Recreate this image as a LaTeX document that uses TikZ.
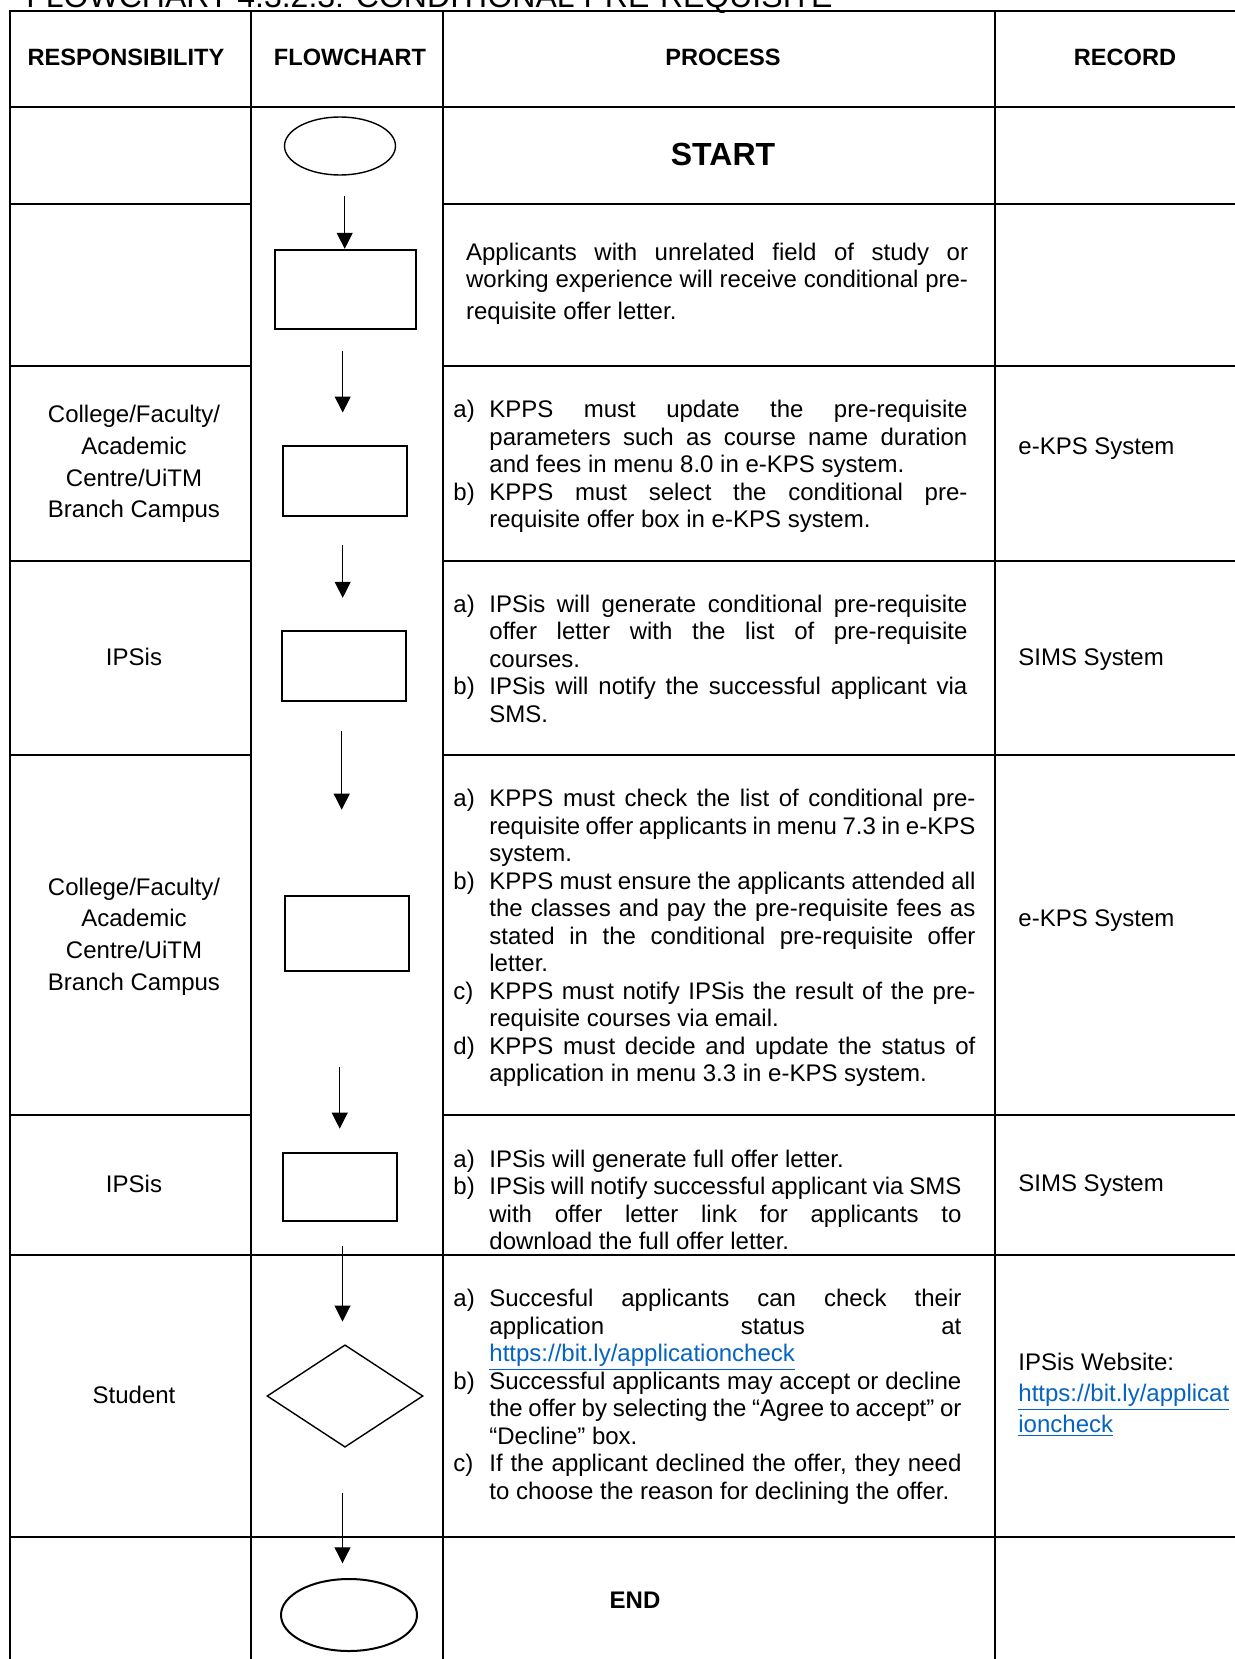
\documentclass[tikz,border=0pt]{standalone}
\usepackage{fontspec}
\setmainfont{Liberation Sans}
\usepackage{xcolor}
\usetikzlibrary{arrows.meta,shapes.geometric}

\definecolor{linkblue}{HTML}{0563C1}
\newcommand{\weblink}[1]{{\color{linkblue}\underline{#1}}}
\newcommand{\stepitem}[2]{\noindent\hangindent=18pt\hangafter=1\makebox[18pt][l]{#1}#2\par}
\hyphenpenalty=10000
\exhyphenpenalty=10000

\begin{document}
\begin{tikzpicture}[
  x=0.5pt, y=-0.5pt,
  grid/.style={line width=1pt},
  head/.style={font=\fontsize{11.8}{14}\selectfont\bfseries},
  who/.style={align=center, font=\fontsize{12}{15.9}\selectfont},
  task/.style={anchor=west, inner sep=0pt, align=justify, font=\fontsize{12}{13.75}\selectfont},
  rec/.style={anchor=west, inner sep=0pt, align=left, font=\fontsize{12}{15.6}\selectfont},
  flowbox/.style={draw, line width=1pt, inner sep=0pt},
  term/.style={draw, ellipse, line width=0.7pt, inner sep=0pt},
  arr/.style={-{Triangle[length=8pt,width=8pt]}, line width=0.5pt}
]
\useasboundingbox (0,0) rectangle (1235,1659);
\clip (0,0) rectangle (1235,1659);

\node[anchor=base west, inner sep=0pt, font=\fontsize{16}{19}\selectfont] (title) at (26,7.5) {FLOWCHART 4.3.2.3: CONDITIONAL PRE-REQUISITE};

\draw[grid] (1235,11.5) -- (10,11.5) -- (10,1659);
\draw[grid] (250.5,11.5) -- (250.5,1659);
\draw[grid] (442.5,11.5) -- (442.5,1659);
\draw[grid] (995,11.5) -- (995,1659);
\draw[grid] (10,107) -- (1235,107);
\draw[grid] (10,1255) -- (1235,1255);
\draw[grid] (10,1537) -- (1235,1537);
\foreach \y in {204,366,561,755,1115}
  \draw[grid] (10,\y) -- (250.5,\y) (442.5,\y) -- (1235,\y);

\node[head] (hresp) at (126,57) {RESPONSIBILITY};
\node[head] (hflow) at (350,57) {FLOWCHART};
\node[head] (hproc) at (723,57) {PROCESS};
\node[head] (hrec) at (1125,57) {RECORD};

\node[font=\fontsize{16}{19}\selectfont\bfseries] (tstart) at (723,154.5) {START};
\node[font=\fontsize{12}{14}\selectfont\bfseries] (tend) at (635,1600) {END};

\node[who] (r1) at (134,464) {College/Faculty/\\Academic\\Centre/UiTM\\Branch Campus};
\node[who] (r2) at (134,657) {IPSis};
\node[who] (r3) at (134,936.5) {College/Faculty/\\Academic\\Centre/UiTM\\Branch Campus};
\node[who] (r4) at (134,1184) {IPSis};
\node[who] (r5) at (134,1395) {Student};

\node[task, text width=251pt] (p1) at (465.7,284) {Applicants with unrelated field of study or\linebreak working experience will receive conditional pre-\linebreak \rule{0pt}{12.5pt}requisite offer letter.};
\node[task, text width=257pt] (p2) at (453,466.7) {%
  \stepitem{a)}{KPPS must update the pre-requisite\linebreak parameters such as course name duration\linebreak and fees in menu 8.0 in e-KPS system.}%
  \stepitem{b)}{KPPS must select the conditional pre-\linebreak requisite offer box in e-KPS system.}};
\node[task, text width=257pt] (p3) at (453,658.7) {%
  \stepitem{a)}{IPSis will generate conditional pre-requisite\linebreak offer letter with the list of pre-requisite\linebreak courses.}%
  \stepitem{b)}{IPSis will notify the successful applicant via\linebreak SMS.}};
\node[task, text width=261pt] (p4) at (453,938) {%
  \stepitem{a)}{KPPS must check the list of conditional pre-\linebreak requisite offer applicants in menu 7.3 in e-KPS\linebreak system.}%
  \stepitem{b)}{KPPS must ensure the applicants attended all\linebreak the classes and pay the pre-requisite fees as\linebreak stated in the conditional pre-requisite offer\linebreak letter.}%
  \stepitem{c)}{KPPS must notify IPSis the result of the pre-\linebreak requisite courses via email.}%
  \stepitem{d)}{KPPS must decide and update the status of\linebreak application in menu 3.3 in e-KPS system.}};
\node[task, text width=254pt] (p5) at (453,1199.8) {%
  \stepitem{a)}{IPSis will generate full offer letter.}%
  \stepitem{b)}{IPSis will notify successful applicant via SMS\linebreak with offer letter link for applicants to\linebreak download the full offer letter.}};
\node[task, text width=254pt] (p6) at (453,1396.7) {%
  \stepitem{a)}{Succesful applicants can check their\linebreak application status at\linebreak \weblink{https://bit.ly/applicationcheck}}%
  \stepitem{b)}{Successful applicants may accept or decline\linebreak the offer by selecting the “Agree to accept” or\linebreak “Decline” box.}%
  \stepitem{c)}{If the applicant declined the offer, they need\linebreak to choose the reason for declining the offer.}};

\node[rec] (c1) at (1018,448.5) {e-KPS System};
\node[rec] (c2) at (1018,660) {SIMS System};
\node[rec] (c3) at (1018,920.5) {e-KPS System};
\node[rec] (c4) at (1018,1186) {SIMS System};
\node[rec] (c5) at (1018,1395) {IPSis Website:\\\weblink{https://bit.ly/applicat}\\\weblink{ioncheck}};

\node[term, minimum width=55.5pt, minimum height=29pt] (start) at (340,146) {};
\node[flowbox, minimum width=70.6pt, minimum height=39.8pt] (b1) at (345.7,289.6) {};
\node[flowbox, minimum width=62pt, minimum height=35.2pt] (b2) at (345.3,481.2) {};
\node[flowbox, minimum width=62.2pt, minimum height=35.3pt] (b3) at (344.2,665.9) {};
\node[flowbox, minimum width=62.2pt, minimum height=37.5pt] (b4) at (346.9,933.9) {};
\node[flowbox, minimum width=57pt, minimum height=33.9pt] (b5) at (339.7,1186.8) {};
\node[draw, diamond, line width=0.7pt, inner sep=0pt, minimum width=78pt, minimum height=51.2pt] (check) at (345,1396) {};
\node[term, line width=1pt, minimum width=68pt, minimum height=36pt] (stop) at (349,1615) {};

\coordinate (t1) at (344.7,196.3);
\coordinate (t2) at (342.7,351);
\coordinate (t3) at (342.7,545);
\coordinate (t4) at (341.7,731.4);
\coordinate (t5) at (339.7,1066.8);
\coordinate (t6) at (342.5,1246.4);
\coordinate (t7) at (342.5,1492.9);

\draw[arr] (t1) -- (t1 |- b1.north);
\draw[arr, shorten >=16.25pt] (t2) -- (t2 |- b2.north);
\draw[arr, shorten >=15.9pt] (t3) -- (t3 |- b3.north);
\draw[arr, shorten >=42.85pt] (t4) -- (t4 |- b4.north);
\draw[arr, shorten >=11.65pt] (t5) -- (t5 |- b5.north);
\draw[arr, shorten >=11.3pt] (t6) -- (t6 |- check.north);
\draw[arr, shorten >=7.35pt] (t7) -- (t7 |- stop.north);

\end{tikzpicture}
\end{document}
